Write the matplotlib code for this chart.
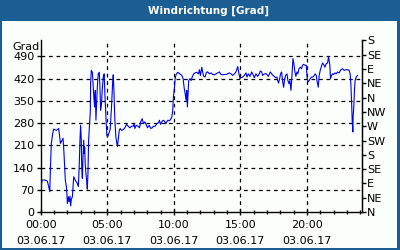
import matplotlib
matplotlib.use("Agg")
import matplotlib.pyplot as plt
from matplotlib.patches import Rectangle

# ---- data: hours since 03.06.17 00:00, wind direction in degrees ----
hours = [
    0.0, 0.1, 0.3, 0.5, 0.6, 0.68, 0.7, 0.75, 0.8, 0.9, 0.98, 1.18, 1.35, 1.4, 1.48, 1.6, 1.68,
    1.75, 1.85, 1.93, 1.98, 2.0, 2.08, 2.13, 2.2, 2.25, 2.3, 2.38, 2.43, 2.48, 2.6, 2.75, 2.83,
    2.9, 2.95, 3.0, 3.05, 3.08, 3.13, 3.18, 3.23, 3.28, 3.3, 3.35, 3.4, 3.45, 3.5, 3.55, 3.6,
    3.68, 3.73, 3.75, 3.8, 3.88, 3.93, 4.0, 4.05, 4.1, 4.15, 4.22, 4.27, 4.32, 4.4, 4.45, 4.5,
    4.57, 4.62, 4.7, 4.77, 4.82, 4.9, 4.97, 5.02, 5.12, 5.22, 5.32, 5.4, 5.45, 5.5, 5.57, 5.65,
    5.72, 5.77, 5.82, 5.9, 5.97, 6.07, 6.2, 6.32, 6.45, 6.57, 6.7, 6.82, 6.95, 7.02, 7.07, 7.17,
    7.32, 7.42, 7.52, 7.62, 7.72, 7.82, 7.95, 8.02, 8.15, 8.27, 8.37, 8.47, 8.6, 8.72, 8.85,
    8.92, 9.0, 9.1, 9.2, 9.3, 9.4, 9.47, 9.55, 9.65, 9.75, 9.85, 9.92, 9.97, 10.05, 10.1, 10.17,
    10.3, 10.45, 10.6, 10.7, 10.77, 10.85, 10.92, 10.97, 11.02, 11.07, 11.12, 11.22, 11.3, 11.4,
    11.5, 11.6, 11.72, 11.85, 11.92, 12.0, 12.1, 12.17, 12.25, 12.35, 12.45, 12.55, 12.67, 12.8,
    12.92, 13.05, 13.17, 13.3, 13.42, 13.55, 13.67, 13.8, 13.92, 14.05, 14.17, 14.3, 14.42,
    14.55, 14.67, 14.8, 14.87, 14.97, 15.05, 15.17, 15.3, 15.42, 15.5, 15.6, 15.72, 15.85, 15.95,
    16.05, 16.17, 16.3, 16.42, 16.5, 16.6, 16.67, 16.8, 16.95, 17.1, 17.25, 17.35, 17.45, 17.55,
    17.65, 17.75, 17.8, 17.87, 17.95, 18.02, 18.1, 18.15, 18.2, 18.25, 18.32, 18.4, 18.5, 18.57,
    18.65, 18.72, 18.8, 18.87, 18.95, 19.02, 19.1, 19.17, 19.25, 19.32, 19.4, 19.5, 19.6, 19.67,
    19.75, 19.85, 19.95, 20.02, 20.1, 20.17, 20.25, 20.35, 20.45, 20.55, 20.62, 20.7, 20.77,
    20.85, 20.92, 21.0, 21.07, 21.17, 21.25, 21.35, 21.45, 21.55, 21.62, 21.67, 21.72, 21.77,
    21.85, 21.92, 22.0, 22.1, 22.2, 22.3, 22.42, 22.55, 22.67, 22.8, 22.92, 23.05, 23.17, 23.25,
    23.3, 23.35, 23.4, 23.45, 23.47, 23.52, 23.57, 23.62, 23.7, 23.8,
]
direction = [
    69, 100, 101, 97, 80, 64, 96, 163, 216, 247, 261, 257, 263, 247, 216, 226, 232,
    184, 100, 80, 48, 27, 48, 32, 50, 19, 40, 48, 80, 111, 100, 90, 80,
    153, 226, 273, 226, 142, 106, 174, 226, 184, 205, 148, 121, 100, 72, 121, 226,
    284, 320, 406, 446, 440, 404, 357, 331, 383, 289, 363, 404, 435, 440, 393, 320,
    341, 383, 425, 435, 373, 299, 242, 236, 247, 260, 331, 404, 432, 383, 289, 236,
    216, 207, 226, 257, 263, 257, 259, 265, 276, 270, 265, 270, 270, 278, 263, 273,
    270, 265, 284, 294, 278, 284, 273, 265, 273, 263, 265, 270, 270, 278, 281,
    289, 276, 284, 289, 286, 278, 284, 289, 287, 291, 299, 320, 362, 393, 420, 433,
    440, 435, 430, 420, 393, 373, 352, 383, 331, 373, 414, 420, 414, 427,
    435, 438, 440, 435, 448, 430, 456, 440, 427, 425, 440, 441, 435, 438,
    433, 432, 435, 438, 441, 433, 432, 433, 433, 435, 438, 435, 430,
    435, 441, 458, 441, 420, 423, 425, 430, 438, 425, 435, 427, 441, 433,
    423, 435, 427, 435, 444, 441, 430, 435, 435, 427, 441, 435, 430, 427,
    423, 425, 414, 406, 420, 435, 441, 420, 404, 393, 417, 430, 435, 414,
    404, 414, 383, 425, 483, 467, 441, 427, 441, 435, 451, 456, 451, 462,
    465, 462, 462, 420, 410, 414, 420, 425, 425, 430, 435, 430, 410,
    393, 430, 446, 456, 469, 465, 456, 467, 469, 488, 477, 462, 420,
    430, 435, 433, 438, 435, 441, 438, 448, 451, 446, 448, 448, 446, 435,
    404, 352, 289, 252, 299, 331, 383, 414, 425, 430,
]

left_ticks = [0, 70, 140, 210, 280, 350, 420, 490]
right_ticks = [0, 45, 90, 135, 180, 225, 270, 315, 360, 405, 450, 495, 540]
right_labels = ["N", "NE", "E", "SE", "S", "SW", "W", "NW", "N", "NE", "E", "SE", "S"]
x_ticks = [0, 5, 10, 15, 20]
x_labels = ["00:00\n03.06.17", "05:00\n03.06.17", "10:00\n03.06.17",
            "15:00\n03.06.17", "20:00\n03.06.17"]
title = "Windrichtung [Grad]"
unit = "Grad"

frame_blue = "#1b5e94"
bg = "#fbfffb"

W, H = 400, 250
fig = plt.figure(figsize=(4, 2.5), dpi=100)
fig.patch.set_facecolor(frame_blue)
fig.patches.append(Rectangle((2 / W, 2 / H), (W - 5) / W, (H - 21 - 2) / H,
                             transform=fig.transFigure, facecolor=bg,
                             edgecolor="none", zorder=-10))
fig.text(208 / W, 1 - 10.5 / H, title, color="white", fontsize=7.5,
         fontweight="bold", ha="center", va="center", family="DejaVu Sans")

x0, x1 = 40.7, 361.5
ytop, ybot = 40.5, 212
ax = fig.add_axes([x0 / W, 1 - ybot / H, (x1 - x0) / W, (ybot - ytop) / H])
ax.set_facecolor("none")
ax.plot(hours, direction, color="#0000f0", linewidth=0.8, zorder=3)

ax.set_xlim(0, 24.1)
ax.set_ylim(0, 540)
ax.set_yticks(left_ticks)
ax.set_yticklabels([str(v) for v in left_ticks])
ax.set_xticks(x_ticks)
ax.set_xticklabels(x_labels, linespacing=1.8)
ax.set_xticks(range(0, 25), minor=True)

for v in left_ticks[1:]:
    ax.axhline(v, color="black", linewidth=0.9, linestyle=(0, (3, 3)), zorder=2)
for v in x_ticks[1:]:
    ax.axvline(v, color="black", linewidth=0.9, linestyle=(0, (3, 3)), zorder=2)

for s in ["top"]:
    ax.spines[s].set_visible(False)
for s in ["left", "bottom", "right"]:
    ax.spines[s].set_linewidth(1.0)

ax.tick_params(axis="y", direction="out", length=3, width=1, labelsize=8, pad=1.5)
ax.tick_params(axis="x", which="major", direction="inout", length=5, width=1,
               labelsize=8, pad=3)
ax.tick_params(axis="x", which="minor", direction="inout", length=3, width=1)

ax2 = ax.twinx()
ax2.set_ylim(0, 540)
ax2.set_yticks(right_ticks)
ax2.set_yticklabels(right_labels)
ax2.spines["top"].set_visible(False)
ax2.spines["left"].set_visible(False)
ax2.spines["bottom"].set_visible(False)
ax2.tick_params(axis="y", direction="out", length=3, width=1, labelsize=8, pad=1)

fig.text(12 / W, 1 - 47 / H, unit, fontsize=8, ha="left", va="center")

fig.savefig("out.png", dpi=100, facecolor=frame_blue)
